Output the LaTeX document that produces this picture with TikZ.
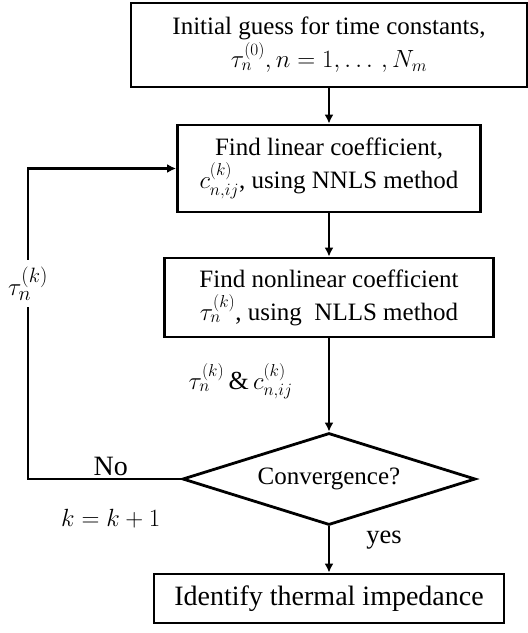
\documentclass[tikz,border=0pt]{standalone}
\usepackage{amsmath}
\usepackage{fontspec}
\setmainfont{Liberation Serif}
\usetikzlibrary{shapes,arrows.meta,calc}

\begin{document}
\begin{tikzpicture}[x=1pt, y=-1pt,
	every node/.style={font=\fontsize{25}{33}\selectfont, inner sep=2pt},
	big/.style={font=\fontsize{28}{34}\selectfont},
	box/.style={draw, line width=2.8pt, align=center, inner sep=0pt},
	decision/.style={draw, diamond, aspect=3.2, line width=2.8pt, inner sep=0pt}]
	\useasboundingbox (0,0) rectangle (528,633);

	\node[box, minimum width=396pt, minimum height=84pt] (guess) at (329,45) {Initial guess for time constants,\\ $\tau_n^{(0)}, n = 1, \ldots\,, N_m$};
	\node[box, minimum width=303pt, minimum height=87pt] (linear) at (329,168.5) {Find linear coefficient,\\ $c_{n,ij}^{(k)}$, using NNLS method};
	\node[box, minimum width=329pt, minimum height=79pt] (nonlinear) at (329,297.5) {Find nonlinear coefficient\\ $\tau_n^{(k)}$, using~ NLLS method};
	\node[decision, minimum width=293pt, minimum height=92pt] (conv) at (329,479) {Convergence?};
	\node[box, big, minimum width=350pt, minimum height=49pt] (identify) at (329,598.5) {Identify thermal impedance};
	\coordinate (loop) at (28,0);

\begin{scope}[every path/.style={-{Latex[length=9pt,width=9pt]}, line width=2.8pt, draw}]
	\draw (guess.south) -- (linear.north);
	\draw (linear.south) -- (nonlinear.north);
	\draw (nonlinear.south) -- node[left=33pt, pos=0.46, font=\fontsize{26}{30}\selectfont] {$\tau_n^{(k)}$\,\&\,$c_{n,ij}^{(k)}$} (conv.north);
	\draw (conv.south) -- node[right=34pt, pos=0.3, font=\fontsize{26.5}{30}\selectfont] {yes} (identify.north);
	\draw (conv.west) -- node[above=0pt, pos=0.46, big] {No} node[below=27pt, pos=0.46, big] {$k = k + 1$} (conv.west -| loop)
		-- node[fill=white, inner sep=7pt, pos=0.63, big] {$\tau_n^{(k)}$} (linear.west -| loop) -- (linear.west);
\end{scope}

\end{tikzpicture}
\end{document}
